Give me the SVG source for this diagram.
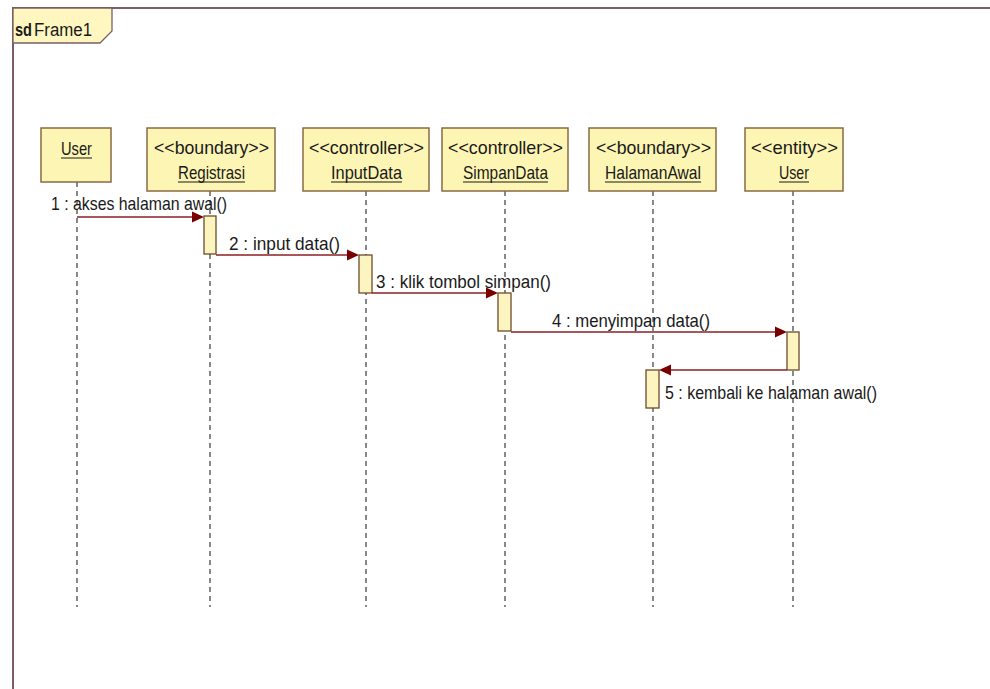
<svg xmlns="http://www.w3.org/2000/svg" width="990" height="689" viewBox="0 0 990 689">
  <style>
    .head { fill: #fdf5b4; stroke: #8a6a42; stroke-width: 1.5; }
    .txt { font-family: "Liberation Sans Narrow", "Liberation Sans", Arial, sans-serif; fill: #1a1a1a; }
    .hd { font-size: 19px; }
    .msg { font-size: 18.5px; }
    .uline { stroke: #1a1a1a; stroke-width: 1; }
    .life { stroke: #3a3a3a; stroke-width: 1.2; stroke-dasharray: 5 4; fill: none; }
    .act { fill: #fdf5c0; stroke: #6e4a2a; stroke-width: 1.3; }
    .call { stroke: #8b1f24; stroke-width: 1.4; fill: none; }
    .head-arrow { fill: #7a0000; }
  </style>

  <!-- frame -->
  <g id="frame">
    <rect x="0" y="0" width="990" height="689" fill="#ffffff"/>
    <path d="M13,689 L13,8 L990,8" fill="none" stroke="#7c5e66" stroke-width="2"/>
    <polygon points="13,8 112,8 112,31 100,43 13,43" fill="#fff7bf" stroke="#7c5e66" stroke-width="1.3"/>
    <text class="txt" x="15" y="36" font-size="18" font-weight="bold" textLength="17" lengthAdjust="spacingAndGlyphs">sd</text>
    <text class="txt" x="34" y="36" font-size="18" textLength="58" lengthAdjust="spacingAndGlyphs">Frame1</text>
  </g>

  <!-- lifelines -->
  <g id="lifelines">
    <line class="life" x1="77" y1="182" x2="77" y2="607"/>
    <line class="life" x1="210" y1="191" x2="210" y2="607"/>
    <line class="life" x1="366" y1="191" x2="366" y2="607"/>
    <line class="life" x1="505" y1="191" x2="505" y2="607"/>
    <line class="life" x1="653" y1="191" x2="653" y2="607"/>
    <line class="life" x1="793" y1="191" x2="793" y2="607"/>
  </g>

  <!-- participants -->
  <g id="user">
    <rect class="head" x="41" y="128" width="70" height="54"/>
    <text class="txt hd" x="61" y="155" textLength="31" lengthAdjust="spacingAndGlyphs">User</text>
    <line class="uline" x1="61" y1="158" x2="92" y2="158"/>
  </g>
  <g id="registrasi">
    <rect class="head" x="147" y="128" width="128" height="63"/>
    <text class="txt hd" x="154" y="154" textLength="115" lengthAdjust="spacingAndGlyphs">&lt;&lt;boundary&gt;&gt;</text>
    <text class="txt hd" x="178" y="179" textLength="67" lengthAdjust="spacingAndGlyphs">Registrasi</text>
    <line class="uline" x1="178" y1="182" x2="245" y2="182"/>
  </g>
  <g id="inputdata">
    <rect class="head" x="303" y="128" width="126" height="63"/>
    <text class="txt hd" x="309" y="154" textLength="115" lengthAdjust="spacingAndGlyphs">&lt;&lt;controller&gt;&gt;</text>
    <text class="txt hd" x="331" y="179" textLength="71" lengthAdjust="spacingAndGlyphs">InputData</text>
    <line class="uline" x1="331" y1="182" x2="402" y2="182"/>
  </g>
  <g id="simpandata">
    <rect class="head" x="442" y="128" width="126" height="63"/>
    <text class="txt hd" x="448" y="154" textLength="115" lengthAdjust="spacingAndGlyphs">&lt;&lt;controller&gt;&gt;</text>
    <text class="txt hd" x="463" y="179" textLength="85" lengthAdjust="spacingAndGlyphs">SimpanData</text>
    <line class="uline" x1="463" y1="182" x2="548" y2="182"/>
  </g>
  <g id="halamanawal">
    <rect class="head" x="589" y="128" width="127" height="63"/>
    <text class="txt hd" x="596" y="154" textLength="115" lengthAdjust="spacingAndGlyphs">&lt;&lt;boundary&gt;&gt;</text>
    <text class="txt hd" x="605" y="179" textLength="96" lengthAdjust="spacingAndGlyphs">HalamanAwal</text>
    <line class="uline" x1="605" y1="182" x2="701" y2="182"/>
  </g>
  <g id="entity-user">
    <rect class="head" x="745" y="128" width="98" height="63"/>
    <text class="txt hd" x="751" y="154" textLength="87" lengthAdjust="spacingAndGlyphs">&lt;&lt;entity&gt;&gt;</text>
    <text class="txt hd" x="779" y="179" textLength="30" lengthAdjust="spacingAndGlyphs">User</text>
    <line class="uline" x1="779" y1="182" x2="809" y2="182"/>
  </g>

  <!-- activation bars -->
  <g id="activations">
    <rect class="act" x="204" y="216" width="12" height="38"/>
    <rect class="act" x="359" y="255" width="13" height="38"/>
    <rect class="act" x="498" y="293" width="13" height="38"/>
    <rect class="act" x="787" y="332" width="12" height="38"/>
    <rect class="act" x="646" y="370" width="13" height="38"/>
  </g>

  <!-- messages -->
  <g id="connectors">
    <line class="call" x1="77" y1="217" x2="194" y2="217"/>
    <polygon class="head-arrow" points="204,217 192,211.5 192,222.5"/>
    <text class="txt msg" x="51" y="210" textLength="176" lengthAdjust="spacingAndGlyphs">1 : akses halaman awal()</text>

    <line class="call" x1="216" y1="255" x2="349" y2="255"/>
    <polygon class="head-arrow" points="359,255 347,249.5 347,260.5"/>
    <text class="txt msg" x="229" y="250" textLength="111" lengthAdjust="spacingAndGlyphs">2 : input data()</text>

    <line class="call" x1="372" y1="293" x2="488" y2="293"/>
    <polygon class="head-arrow" points="498,293 486,287.5 486,298.5"/>
    <text class="txt msg" x="376" y="288" textLength="175" lengthAdjust="spacingAndGlyphs">3 : klik tombol simpan()</text>

    <line class="call" x1="511" y1="332" x2="777" y2="332"/>
    <polygon class="head-arrow" points="787,332 775,326.5 775,337.5"/>
    <text class="txt msg" x="552" y="327" textLength="158" lengthAdjust="spacingAndGlyphs">4 : menyimpan data()</text>

    <line class="call" x1="787" y1="370" x2="669" y2="370"/>
    <polygon class="head-arrow" points="659,370 671,364.5 671,375.5"/>
    <text class="txt msg" x="665" y="399" textLength="212" lengthAdjust="spacingAndGlyphs">5 : kembali ke halaman awal()</text>
  </g>
</svg>
